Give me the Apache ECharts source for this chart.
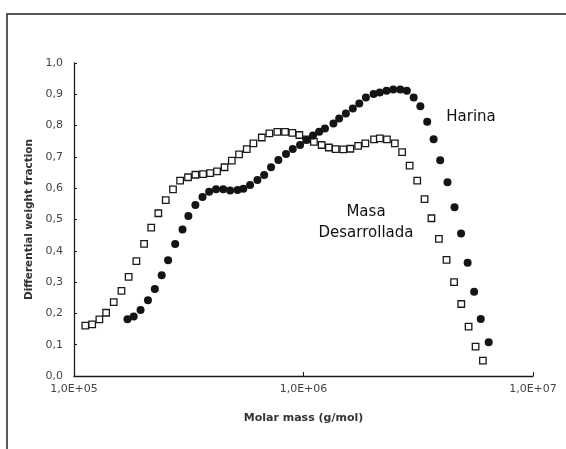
<!DOCTYPE html>
<html>
<head>
<meta charset="utf-8">
<script src="https://cdn.jsdelivr.net/npm/echarts@6/dist/echarts.min.js"></script>
<style>
  html, body { margin: 0; padding: 0; background: #fff; }
  #chart { width: 566px; height: 449px; }
</style>
</head>
<body>
<div id="chart"></div>
<script>
// values (molar mass in g/mol, log x-axis)
var masaMass = [1.12e5, 1.20e5, 1.29e5, 1.38e5, 1.49e5, 1.61e5, 1.73e5, 1.87e5, 2.02e5, 2.17e5,
  2.33e5, 2.51e5, 2.70e5, 2.90e5, 3.14e5, 3.38e5, 3.65e5, 3.92e5, 4.20e5, 4.53e5,
  4.87e5, 5.24e5, 5.66e5, 6.05e5, 6.58e5, 7.10e5, 7.69e5, 8.31e5, 8.94e5, 9.59e5,
  1.03e6, 1.11e6, 1.20e6, 1.29e6, 1.38e6, 1.49e6, 1.60e6, 1.73e6, 1.86e6, 2.03e6,
  2.15e6, 2.31e6, 2.50e6, 2.69e6, 2.90e6, 3.13e6, 3.37e6, 3.61e6, 3.89e6, 4.20e6,
  4.53e6, 4.87e6, 5.24e6, 5.62e6, 6.05e6];
var masaFraction = [0.161, 0.165, 0.181, 0.202, 0.236, 0.272, 0.317, 0.367, 0.422, 0.474,
  0.520, 0.562, 0.596, 0.624, 0.635, 0.643, 0.645, 0.648, 0.654, 0.667,
  0.688, 0.708, 0.725, 0.743, 0.762, 0.775, 0.780, 0.780, 0.777, 0.770,
  0.756, 0.748, 0.738, 0.730, 0.725, 0.724, 0.726, 0.735, 0.743, 0.756,
  0.759, 0.756, 0.743, 0.715, 0.672, 0.624, 0.565, 0.504, 0.438, 0.371,
  0.300, 0.230, 0.158, 0.094, 0.049];

var harinaMass = [1.71e5, 1.82e5, 1.95e5, 2.10e5, 2.25e5, 2.41e5, 2.57e5, 2.76e5, 2.97e5, 3.15e5,
  3.38e5, 3.63e5, 3.88e5, 4.16e5, 4.47e5, 4.79e5, 5.16e5, 5.47e5, 5.85e5, 6.30e5,
  6.74e5, 7.22e5, 7.77e5, 8.39e5, 8.98e5, 9.66e5, 1.03e6, 1.10e6, 1.17e6, 1.24e6,
  1.35e6, 1.43e6, 1.53e6, 1.64e6, 1.75e6, 1.87e6, 2.02e6, 2.15e6, 2.30e6, 2.46e6,
  2.64e6, 2.82e6, 3.02e6, 3.23e6, 3.46e6, 3.69e6, 3.94e6, 4.24e6, 4.55e6, 4.86e6,
  5.19e6, 5.54e6, 5.92e6, 6.41e6];
var harinaFraction = [0.181, 0.190, 0.211, 0.242, 0.278, 0.322, 0.370, 0.422, 0.468, 0.511,
  0.546, 0.572, 0.589, 0.597, 0.597, 0.593, 0.594, 0.598, 0.610, 0.626,
  0.642, 0.667, 0.690, 0.709, 0.725, 0.738, 0.754, 0.768, 0.780, 0.791,
  0.807, 0.823, 0.839, 0.855, 0.871, 0.890, 0.901, 0.906, 0.911, 0.915,
  0.915, 0.911, 0.890, 0.862, 0.812, 0.756, 0.689, 0.619, 0.539, 0.455,
  0.362, 0.269, 0.182, 0.108];

var xTickLabels = ['1,0E+05', '1,0E+06', '1,0E+07'];

function pairs(xs, ys) {
  var out = [];
  for (var i = 0; i < xs.length; i++) out.push([xs[i], ys[i]]);
  return out;
}

var font = 'DejaVu Sans';
var chart = echarts.init(document.getElementById('chart'), null, { renderer: 'canvas' });

chart.setOption({
  animation: false,
  backgroundColor: '#fff',
  grid: { left: 74, right: 33, top: 63, bottom: 73 },
  xAxis: {
    type: 'log',
    logBase: 10,
    min: 1e5,
    max: 1e7,
    name: 'Molar mass (g/mol)',
    nameLocation: 'middle',
    nameGap: 37,
    nameTextStyle: { fontFamily: font, fontWeight: 'bold', fontSize: 11, color: '#333' },
    axisLine: { lineStyle: { color: '#1a1a1a', width: 1.3 } },
    axisTick: { inside: true, length: 4, lineStyle: { color: '#1a1a1a' } },
    minorTick: { show: false },
    splitLine: { show: false },
    axisLabel: {
      margin: 8,
      fontFamily: font,
      fontSize: 11,
      color: '#444',
      formatter: function (v) {
        var k = Math.round(Math.log10(v)) - 5;
        return xTickLabels[k] || '';
      }
    }
  },
  yAxis: {
    type: 'value',
    min: 0,
    max: 1,
    interval: 0.1,
    name: 'Differential weight fraction',
    nameLocation: 'middle',
    nameGap: 37,
    nameTextStyle: { fontFamily: font, fontWeight: 'bold', fontSize: 10.5, color: '#333' },
    axisLine: { show: true, lineStyle: { color: '#1a1a1a', width: 1.3 } },
    axisTick: { show: true, inside: true, length: 3, lineStyle: { color: '#1a1a1a' } },
    splitLine: { show: false },
    axisLabel: {
      margin: 11,
      fontFamily: font,
      fontSize: 11,
      color: '#444',
      formatter: function (v) { return v.toFixed(1).replace('.', ','); }
    }
  },
  series: [
    {
      name: 'Masa Desarrollada',
      type: 'scatter',
      symbol: 'rect',
      symbolSize: 6.5,
      itemStyle: { color: '#fff', borderColor: '#1a1a1a', borderWidth: 1.3, opacity: 1 },
      data: pairs(masaMass, masaFraction),
      z: 2
    },
    {
      name: 'Harina',
      type: 'scatter',
      symbol: 'circle',
      symbolSize: 8,
      itemStyle: { color: '#141414', opacity: 1 },
      data: pairs(harinaMass, harinaFraction),
      z: 3
    }
  ],
  graphic: [
    {
      type: 'rect',
      shape: { x: 7, y: 14, width: 620, height: 500 },
      style: { fill: 'none', stroke: '#222', lineWidth: 1.5 },
      silent: true
    },
    {
      type: 'text', x: 471, y: 117,
      style: { text: 'Harina', font: '15px "DejaVu Sans"', fill: '#111', align: 'center', verticalAlign: 'middle' }
    },
    {
      type: 'text', x: 366, y: 212,
      style: { text: 'Masa', font: '15px "DejaVu Sans"', fill: '#111', align: 'center', verticalAlign: 'middle' }
    },
    {
      type: 'text', x: 366, y: 233,
      style: { text: 'Desarrollada', font: '15px "DejaVu Sans"', fill: '#111', align: 'center', verticalAlign: 'middle' }
    }
  ]
});
</script>
</body>
</html>
